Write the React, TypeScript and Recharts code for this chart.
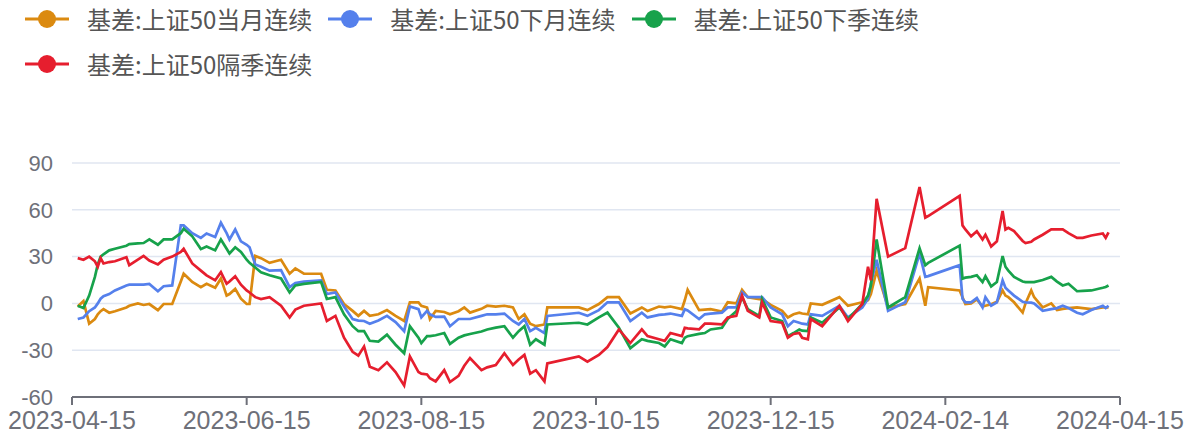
import React from 'react';
import { LineChart, Line, XAxis, YAxis, CartesianGrid } from 'recharts';

const seriesNames = ['基差:上证50当月连续', '基差:上证50下月连续', '基差:上证50下季连续', '基差:上证50隔季连续'];
const seriesColors = ['#DB8A10', '#5580EC', '#17A24B', '#E61E2E'];

const xTickLabels = ['2023-04-15', '2023-06-15', '2023-08-15', '2023-10-15', '2023-12-15', '2024-02-14', '2024-04-15'];
const yTickValues = [-60, -30, 0, 30, 60, 90];

const dates = [
  '2023-04-17', '2023-04-19', '2023-04-21', '2023-04-23', '2023-04-24', '2023-04-25', '2023-04-26', '2023-04-28', '2023-04-30',
  '2023-05-04', '2023-05-05', '2023-05-08', '2023-05-10', '2023-05-12', '2023-05-15', '2023-05-17', '2023-05-20', '2023-05-23',
  '2023-05-24', '2023-05-27', '2023-05-30', '2023-06-01', '2023-06-04', '2023-06-06', '2023-06-08', '2023-06-09', '2023-06-11',
  '2023-06-13', '2023-06-15', '2023-06-16', '2023-06-18', '2023-06-20', '2023-06-23', '2023-06-27', '2023-06-30', '2023-07-02',
  '2023-07-05', '2023-07-11', '2023-07-13', '2023-07-16', '2023-07-19', '2023-07-22', '2023-07-24', '2023-07-26', '2023-07-28',
  '2023-07-31', '2023-08-03', '2023-08-06', '2023-08-09', '2023-08-11', '2023-08-14', '2023-08-15', '2023-08-17', '2023-08-18',
  '2023-08-20', '2023-08-23', '2023-08-25', '2023-08-28', '2023-08-30', '2023-09-01', '2023-09-05', '2023-09-07', '2023-09-10',
  '2023-09-13', '2023-09-16', '2023-09-18', '2023-09-20', '2023-09-22', '2023-09-24', '2023-09-27', '2023-09-28', '2023-10-09',
  '2023-10-12', '2023-10-16', '2023-10-19', '2023-10-23', '2023-10-27', '2023-10-31', '2023-11-02', '2023-11-06', '2023-11-08',
  '2023-11-10', '2023-11-14', '2023-11-15', '2023-11-16', '2023-11-20', '2023-11-22', '2023-11-24', '2023-11-28', '2023-11-30',
  '2023-12-03', '2023-12-05', '2023-12-07', '2023-12-11', '2023-12-12', '2023-12-15', '2023-12-19', '2023-12-21', '2023-12-23',
  '2023-12-25', '2023-12-26', '2023-12-28', '2023-12-29', '2024-01-02', '2024-01-08', '2024-01-11', '2024-01-16', '2024-01-18',
  '2024-01-19', '2024-01-21', '2024-01-25', '2024-01-31', '2024-02-05', '2024-02-07', '2024-02-08', '2024-02-19', '2024-02-20',
  '2024-02-21', '2024-02-23', '2024-02-25', '2024-02-27', '2024-02-28', '2024-03-01', '2024-03-03', '2024-03-05', '2024-03-06',
  '2024-03-07', '2024-03-09', '2024-03-12', '2024-03-13', '2024-03-15', '2024-03-16', '2024-03-19', '2024-03-22', '2024-03-24',
  '2024-03-26', '2024-03-28', '2024-03-31', '2024-04-02', '2024-04-05', '2024-04-09', '2024-04-10', '2024-04-11',
];

const currentMonth = [
  -2, 1.5, -13, -10, -7, -5, -3.7, -6, -5,
  -2.6, -1.5, 0, -1, -0.4, -4.3, -0.4, -0.4, 14,
  19, 13.7, 10.4, 12.6, 10, 16, 5, 6, 9.3,
  3, -0.4, -0.4, 30.4, 29, 26, 28, 19, 22.4,
  19, 19, 8.7, 8.3, -0.4, -4.8, -8, -4.8, -8,
  -7, -4.3, -8, -11.3, 0.7, 0.7, -1.5, -2.6, -10,
  -4.8, -5.5, -7, -5, -2.6, -5.9, -3.5, -1.5, -2,
  -1.5, -2.6, -10, -7, -13, -14.6, -13.5, -2.6, -2.6,
  -4.3, -0.4, 4, 4, -6.5, -2.6, -4.8, -2, -2.5,
  -2, -3.7, 2, 8.7, -4.3, -4, -3.7, -5.2, 0.7,
  0, 8.7, 4, 2.8, 2.8, -1, -4.8, -9, -7,
  -5.9, -6.5, -7, 0, -0.9, 4, -1.5, 0.7, 2,
  6, 21, -2.6, -0.4, 15.9, -1.5, 10.4, 8.3, 4,
  -0.4, 0, 2.5, -2, -1.5, -0.5, 1, 8.3, 5,
  4, 0.7, -5.9, 0, 8.3, 4, -2.6, 0, -4.3,
  -3.5, -3, -2.6, -3, -3.7, -2.6, -2.6, -2.6,
];

const nextMonth = [
  -10, -9, -5, -2.6, 0, 3, 4.6, 6, 8.3,
  11.5, 12, 12, 12, 12.5, 7.8, 11, 11.5, 50,
  50, 45, 42, 44.8, 42.6, 51.7, 45, 41, 47.4,
  39.8, 37.6, 36, 25, 23.5, 21, 21.3, 10.4, 13,
  14, 14.8, 6, 7, -2, -10, -11, -11.3, -13,
  -11, -8, -12, -17.8, -2, -3.7, -9, -4.8, -7,
  -8.7, -8.5, -14.6, -10, -10, -10, -8, -7, -7,
  -6.5, -11.3, -13.5, -10, -17.8, -15.6, -19, -8, -6,
  -8, -4.3, 0.7, 0.7, -11.3, -5.9, -9, -7.4, -7,
  -6.5, -8, -3.7, -4.5, -10, -7, -6.5, -5.9, -2.6,
  -2.6, 7.2, 4, 4, 4, -2.6, -7, -14.6, -11.3,
  -12.4, -13, -13.5, -7, -8, -1.5, -9, -2.6, 3,
  12.6, 28, -4.8, 0.7, 32, 17, 17.5, 24.5, 3,
  0.7, 0.7, 3.5, -2.6, 4, -1.5, 0.7, 14.8, 10,
  8.3, 5, 1, 0.7, 0.5, 0, -4.8, -3.7, -3,
  -1.5, -3, -6, -7, -4.3, -1.5, -3, -1.5,
];

const nextQuarter = [
  -1.5, -3, 5, 17, 25, 30, 31.5, 34, 35,
  37, 38, 38.5, 38.7, 41, 37.6, 41, 41, 45,
  47.8, 43, 34.8, 36.5, 34, 41, 35, 32, 36,
  33, 28, 26, 23, 20, 18, 16, 7, 11.5,
  12.5, 13.7, 2.8, 4, -7, -14.6, -17.8, -17.8, -24,
  -24.5, -20, -26.5, -32, -14.6, -22, -25.4, -21, -21,
  -20.4, -19, -26, -22, -20.5, -19.6, -18, -16.7, -15.5,
  -14.6, -22, -17.8, -14.6, -26.5, -23, -26.5, -13.5, -12.4,
  -13.5, -9, -5.9, -15.6, -28.7, -23, -24, -25.4, -27.6,
  -23, -25.4, -22, -21, -19.5, -19, -16.7, -15.6, -10,
  -5, 4, -3.7, -8, 2.8, -9, -11.3, -21, -19,
  -16.7, -17.5, -17.8, -9, -12.4, -2.6, -10, -0.4, 5,
  11.5, 41, -2.6, 4, 35.4, 24.5, 26, 37, 15.9,
  16.5, 17, 18, 13.7, 17.4, 10.9, 13.7, 30.4, 23.5,
  21, 17, 14, 13.7, 13.7, 13.7, 15, 17, 14,
  11.5, 12.6, 7.8, 8, 8.3, 10, 10.5, 11.5,
];

const farQuarter = [
  29, 28, 30, 27, 23.5, 29, 25.6, 26.5, 27,
  29.6, 24.5, 28, 30.4, 27.5, 25, 28, 30, 33,
  35, 25.6, 21, 18, 14.8, 20, 12.6, 14, 17.4,
  12, 8.3, 7, 4, 2.8, 4, -1.5, -9, -4,
  -1.5, 0, -11.3, -8, -22, -31, -33.5, -27.6, -40.6,
  -42.8, -37.8, -44, -52.6, -34, -44, -45, -45.6, -48,
  -50, -42.8, -50.4, -46.5, -40, -35, -42.8, -41, -39.5,
  -32, -39.5, -36, -33, -45, -42.8, -50, -38.5, -34,
  -37.4, -33, -28, -16.7, -25.4, -16.7, -21, -23, -24,
  -19, -21, -15.6, -16, -16.7, -13, -13, -13.5, -9,
  -8, 5, -4.8, -9, 0.7, -11.3, -12.4, -22, -19.6,
  -19, -22, -23, -10, -14.6, -1.5, -11.3, -0.4, 23.5,
  14.8, 67, 30, 35.4, 74.6, 55, 56, 69, 50,
  47.4, 43, 46.3, 41, 44, 36.5, 39.8, 59.3, 47.4,
  48.5, 46.3, 40, 38.7, 39.5, 41, 44, 47.4, 47.4,
  47.4, 45, 42, 42, 43.5, 44.8, 42, 45.6,
];

const seriesValues = [currentMonth, nextMonth, nextQuarter, farQuarter];
const seriesKeys = ['s0', 's1', 's2', 's3'];

const data = dates.map((d, i) => {
  const row: Record<string, number> = { t: Date.parse(d) };
  seriesKeys.forEach((k, j) => {
    row[k] = seriesValues[j][i];
  });
  return row;
});

const xTicks = xTickLabels.map((d) => Date.parse(d));
const fmtDate = (v: number) => new Date(v).toISOString().slice(0, 10);

const LegendItem = ({ name, color }: { name: string; color: string }) => (
  <div style={{ display: 'flex', alignItems: 'center' }}>
    <svg width={46} height={24} style={{ display: 'block' }}>
      <line x1={1} y1={12} x2={45} y2={12} stroke={color} strokeWidth={3} />
      <circle cx={23} cy={12} r={9} fill={color} />
    </svg>
    <span
      style={{
        marginLeft: 17,
        fontFamily: '"Noto Sans CJK SC", "Noto Sans", sans-serif',
        fontSize: 24,
        color: '#555',
        whiteSpace: 'nowrap',
        lineHeight: '26px',
      }}
    >
      {name}
    </span>
  </div>
);

export default function App() {
  return (
    <div style={{ position: 'absolute', left: 0, top: 0, width: 1195, height: 434, background: '#fff', overflow: 'hidden' }}>
      <div style={{ position: 'absolute', left: 24, top: 6, display: 'flex', gap: 15 }}>
        <LegendItem name={seriesNames[0]} color={seriesColors[0]} />
        <LegendItem name={seriesNames[1]} color={seriesColors[1]} />
        <LegendItem name={seriesNames[2]} color={seriesColors[2]} />
      </div>
      <div style={{ position: 'absolute', left: 24, top: 51, display: 'flex' }}>
        <LegendItem name={seriesNames[3]} color={seriesColors[3]} />
      </div>
      <div style={{ position: 'absolute', left: 0, top: 0 }}>
        <LineChart width={1195} height={434} data={data} margin={{ top: 163, right: 75, bottom: 0, left: 0 }}>
          <CartesianGrid vertical={false} stroke="#E0E6F1" strokeWidth={1.5} />
          <XAxis
            type="number"
            dataKey="t"
            domain={[xTicks[0], xTicks[xTicks.length - 1]]}
            ticks={xTicks}
            tickFormatter={fmtDate}
            height={37}
            stroke="#6E7079"
            axisLine={{ stroke: '#6E7079', strokeWidth: 2 }}
            tickLine={{ stroke: '#6E7079', strokeWidth: 2 }}
            tickSize={8}
            tickMargin={6}
            tick={{ fill: '#6E7079', fontSize: 25, fontFamily: '"Liberation Sans", Arial, sans-serif' }}
            interval={0}
          />
          <YAxis
            type="number"
            domain={[-60, 90]}
            ticks={yTickValues}
            width={72}
            axisLine={false}
            tickLine={false}
            tickSize={0}
            tickMargin={19}
            tick={{ fill: '#6E7079', fontSize: 22, fontFamily: '"Liberation Sans", Arial, sans-serif' }}
            interval={0}
          />
          {seriesKeys.map((k, j) => (
            <Line
              key={k}
              type="linear"
              dataKey={k}
              name={seriesNames[j]}
              stroke={seriesColors[j]}
              strokeWidth={2.7}
              dot={false}
              activeDot={false}
              isAnimationActive={false}
            />
          ))}
        </LineChart>
      </div>
    </div>
  );
}
